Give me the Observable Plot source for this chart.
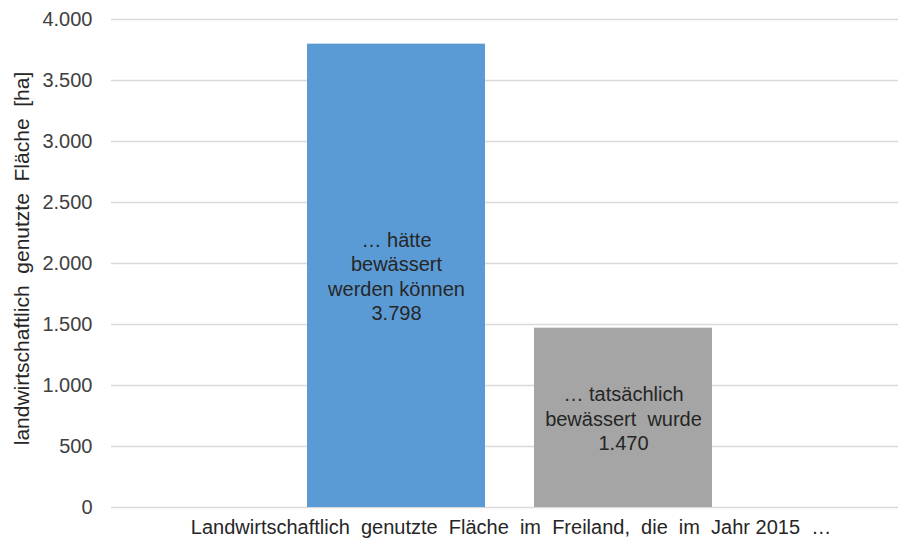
<!DOCTYPE html>
<html>
<head>
<meta charset="utf-8">
<script src="https://cdn.jsdelivr.net/npm/d3@7"></script>
<script src="https://cdn.jsdelivr.net/npm/@observablehq/plot@0.6"></script>
<style>
  html, body { margin: 0; padding: 0; background: #fff; }
  svg { font-family: "Liberation Sans", Arial, sans-serif; }
</style>
</head>
<body>
<div id="chart"></div>
<script>
const series = ["… hätte bewässert werden können", "… tatsächlich bewässert wurde"];
const labelLines = ["… hätte\nbewässert\nwerden können", "… tatsächlich\nbewässert  wurde"];
const values = [3798, 1470];
const colors = ["#5B9BD5", "#A5A5A5"];
const yTicks = [0, 500, 1000, 1500, 2000, 2500, 3000, 3500, 4000];
const yTitle = "landwirtschaftlich  genutzte  Fläche  [ha]";
const xTitle = "Landwirtschaftlich  genutzte  Fläche  im  Freiland,  die  im  Jahr 2015  …";

const de = d3.formatLocale({decimal: ",", thousands: ".", grouping: [3], currency: ["", " €"]});
const fmt = de.format(",");

const data = series.map((s, i) => ({series: s, value: values[i], label: labelLines[i] + "\n" + fmt(values[i])}));

const chart = Plot.plot({
  width: 900,
  height: 544,
  marginTop: 19,
  marginBottom: 37,
  marginLeft: 111,
  marginRight: 2,
  style: {fontFamily: "'Liberation Sans', Arial, sans-serif", background: "#fff"},
  x: {domain: series, range: [307, 712], paddingInner: 49 / 227, paddingOuter: 0, axis: null},
  y: {domain: [0, 4000], ticks: yTicks},
  color: {domain: series, range: colors},
  marks: [
    Plot.gridY(yTicks, {stroke: "#d9d9d9", strokeOpacity: 1, strokeWidth: 1.3}),
    Plot.barY(data, {x: "series", y: "value", fill: "series"}),
    Plot.axisY(yTicks, {tickSize: 0, tickPadding: 19, tickFormat: fmt, fontSize: 20, fill: "#404040", label: null}),
    Plot.text(data, {x: "series", y: d => d.value / 2, text: "label", fontSize: 20, lineHeight: 1.22, fill: "#262626"}),
    Plot.text([xTitle], {frameAnchor: "bottom", dx: 6, dy: 26, text: d => d, fontSize: 20, fill: "#262626"}),
    Plot.text([yTitle], {frameAnchor: "left", textAnchor: "middle", rotate: -90, dx: -89, dy: -5, text: d => d, fontSize: 21, fill: "#262626"})
  ]
});
document.getElementById("chart").appendChild(chart);
</script>
</body>
</html>
